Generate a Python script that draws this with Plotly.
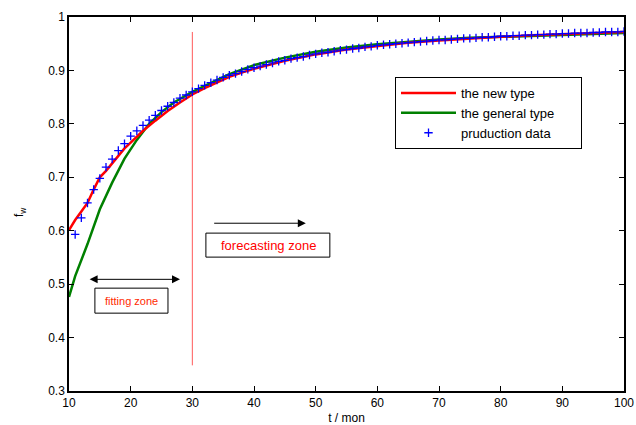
import plotly.graph_objects as go

# production data (monthly)
t_data = list(range(11, 101))
f_data = [0.593, 0.624, 0.652, 0.677, 0.698, 0.719, 0.734, 0.750, 0.763, 0.777,
          0.787, 0.797, 0.807, 0.816, 0.825, 0.833, 0.840, 0.848, 0.854, 0.860,
          0.866, 0.872, 0.877, 0.882, 0.887, 0.891, 0.894, 0.898, 0.902, 0.905,
          0.908, 0.911, 0.914, 0.917, 0.919, 0.922, 0.924, 0.926, 0.929, 0.931,
          0.933, 0.934, 0.936, 0.938, 0.939, 0.941, 0.942, 0.944, 0.945, 0.947,
          0.948, 0.949, 0.950, 0.951, 0.952, 0.953, 0.954, 0.955, 0.956, 0.957,
          0.957, 0.958, 0.959, 0.960, 0.960, 0.961, 0.962, 0.962, 0.963, 0.964,
          0.964, 0.965, 0.965, 0.966, 0.966, 0.967, 0.967, 0.968, 0.968, 0.969,
          0.969, 0.970, 0.970, 0.970, 0.971, 0.971, 0.972, 0.972, 0.972, 0.973]

# the new type model
t_new = [10, 11, 12, 13, 14, 15, 16, 17, 18, 19, 20, 22, 24, 26, 28, 30, 32, 34, 36, 38,
         40, 45, 50, 55, 60, 65, 70, 75, 80, 85, 90, 95, 100]
f_new = [0.601, 0.620, 0.636, 0.652, 0.677, 0.700, 0.712, 0.726, 0.740, 0.754, 0.765,
         0.787, 0.806, 0.824, 0.840, 0.855, 0.867, 0.878, 0.888, 0.896, 0.903, 0.918,
         0.930, 0.939, 0.946, 0.952, 0.956, 0.960, 0.963, 0.966, 0.968, 0.970, 0.972]

# the general type model
t_gen = [10, 11, 13, 15, 17, 19, 21, 23, 25, 27, 30, 33, 36, 40, 45, 50, 55, 60, 65, 70,
         75, 80, 85, 90, 95, 100]
f_gen = [0.476, 0.515, 0.575, 0.640, 0.690, 0.735, 0.770, 0.800, 0.822, 0.840, 0.860,
         0.877, 0.893, 0.910, 0.924, 0.935, 0.943, 0.949, 0.954, 0.958, 0.961, 0.963,
         0.965, 0.967, 0.968, 0.970]

# divider between fitting and forecasting zones
t_split = [30, 30]
f_split = [0.348, 0.972]

x_ticks = [10, 20, 30, 40, 50, 60, 70, 80, 90, 100]
y_ticks = [0.3, 0.4, 0.5, 0.6, 0.7, 0.8, 0.9, 1.0]
y_tick_text = ["0.3", "0.4", "0.5", "0.6", "0.7", "0.8", "0.9", "1"]

FONT = "Liberation Sans, Arial, sans-serif"
PAD = "\u00a0" * 6

fig = go.Figure()
fig.add_trace(go.Scatter(x=t_split, y=f_split, mode="lines",
                         line=dict(color="#ff5a5a", width=1), showlegend=False,
                         hoverinfo="skip"))
fig.add_trace(go.Scatter(x=t_gen, y=f_gen, mode="lines", name="the general type" + PAD,
                         legendrank=2, line=dict(color="#008000", width=2.5)))
fig.add_trace(go.Scatter(x=t_new, y=f_new, mode="lines", name="the new type",
                         legendrank=1, line=dict(color="#ff0000", width=2.5)))
fig.add_trace(go.Scatter(x=t_data, y=f_data, mode="markers", name="pruduction data",
                         legendrank=3,
                         marker=dict(symbol="cross-thin", size=6, color="#0000ff",
                                     line=dict(color="#0000ff", width=1.3))))

axis_common = dict(showline=True, linecolor="black", linewidth=1.5, mirror="ticks",
                   ticks="inside", ticklen=5, tickcolor="black", showgrid=False,
                   zeroline=False, automargin=False,
                   tickfont=dict(family=FONT, size=12, color="black"))

fig.update_xaxes(range=[10, 100], tickvals=x_ticks,
                 title=dict(text="t / mon", font=dict(family=FONT, size=12, color="black")),
                 **axis_common)
fig.update_yaxes(range=[0.3, 1.0], tickvals=y_ticks, ticktext=y_tick_text,
                 **axis_common)

# y-axis title placed like the reference
fig.add_annotation(xref="paper", yref="paper", x=(20 - 69) / 555, y=(391 - 212) / 374,
                   xanchor="center", yanchor="middle",
                   text="f<sub>w</sub>", textangle=-90, showarrow=False,
                   font=dict(family=FONT, size=12, color="black"))

# annotation boxes
fig.add_shape(type="rect", x0=32.2, x1=52.3, y0=0.5506, y1=0.5955,
              line=dict(color="black", width=1), fillcolor="white", layer="above")
fig.add_shape(type="rect", x0=14.2, x1=26.05, y0=0.4457, y1=0.4925,
              line=dict(color="black", width=1), fillcolor="white", layer="above")

fig.add_annotation(x=42.3, y=0.572, text="forecasting zone", showarrow=False,
                   font=dict(family=FONT, size=13, color="#ff0000"))
fig.add_annotation(x=20.1, y=0.468, text="fitting zone", showarrow=False,
                   font=dict(family=FONT, size=11, color="#ff2a00"))

# arrows
fig.add_annotation(x=48.4, y=0.614, ax=33.3, ay=0.614, axref="x", ayref="y",
                   xref="x", yref="y", text="", showarrow=True, arrowhead=2,
                   arrowsize=1.6, arrowwidth=1, arrowcolor="black")
fig.add_annotation(x=28.0, y=0.509, ax=13.1, ay=0.509, axref="x", ayref="y",
                   xref="x", yref="y", text="", showarrow=True, arrowhead=2,
                   startarrowhead=2, arrowside="end+start", arrowsize=1.6,
                   startarrowsize=1.6, arrowwidth=1, arrowcolor="black")

fig.update_layout(
    width=636, height=425,
    margin=dict(l=69, r=12, t=17, b=34),
    paper_bgcolor="white", plot_bgcolor="white",
    font=dict(family=FONT, size=12, color="black"),
    legend=dict(x=(395 - 69) / 555, y=(391 - 77) / 374, xanchor="left", yanchor="top",
                bordercolor="black", borderwidth=1, bgcolor="white",
                font=dict(family=FONT, size=13, color="black"),
                itemwidth=55, tracegroupgap=0, traceorder="normal"),
)

fig.write_html("out.html")
